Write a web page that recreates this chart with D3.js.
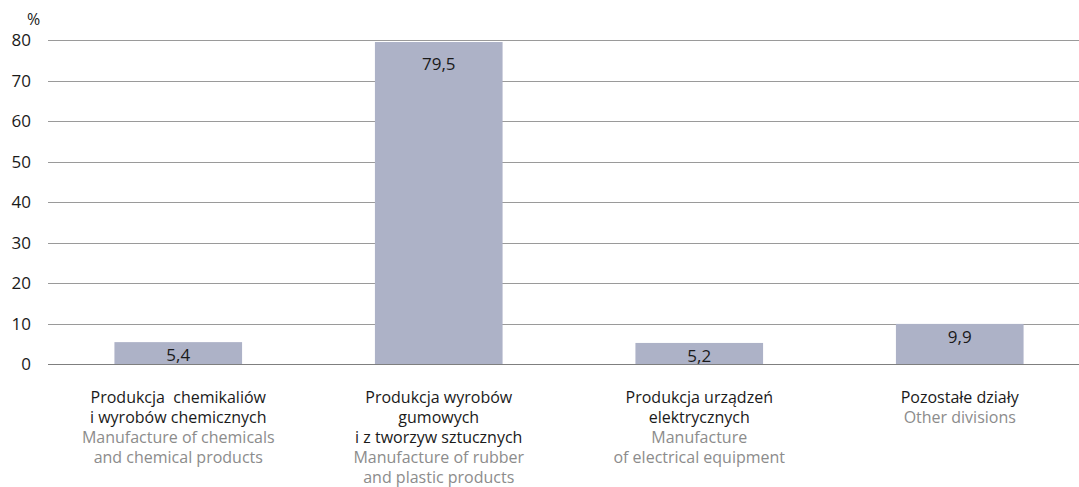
<!DOCTYPE html>
<html>
<head>
<meta charset="utf-8">
<script src="https://cdn.jsdelivr.net/npm/d3@7"></script>
<style>
	body { margin: 0; background: #fff; }
	svg { display: block; font-family: "Open Sans", sans-serif; }
</style>
</head>
<body>
<svg width="1079" height="487"></svg>
<script>
// @ Data
const categoriesPl = [
	["Produkcja  chemikaliów", "i wyrobów chemicznych"],
	["Produkcja wyrobów", "gumowych", "i z tworzyw sztucznych"],
	["Produkcja urządzeń", "elektrycznych"],
	["Pozostałe działy"],
];
const categoriesEn = [
	["Manufacture of chemicals", "and chemical products"],
	["Manufacture of rubber", "and plastic products"],
	["Manufacture", "of electrical equipment"],
	["Other divisions"],
];
const values = [5.4, 79.5, 5.2, 9.9];
const yTicks = [0, 10, 20, 30, 40, 50, 60, 70, 80];

const svg = d3.select("svg");
const margin = { left: 48, top: 40, bottom: 364 };

const x = d3
	.scaleBand()
	.domain(d3.range(values.length))
	.range([margin.left, 1090])
	.paddingInner(0.51)
	.paddingOuter(0.255);

const y = d3.scaleLinear().domain([0, 80]).range([margin.bottom, margin.top]);

// @ grid
svg
	.append("g")
	.selectAll("line")
	.data(yTicks)
	.enter()
	.append("line")
	.attr("x1", margin.left)
	.attr("x2", 1079)
	.attr("y1", (d) => Math.round(y(d)) + 0.5)
	.attr("y2", (d) => Math.round(y(d)) + 0.5)
	.attr("stroke", (d) => (d === 0 ? "#7f7f7f" : "#9a9a9a"))
	.attr("stroke-width", 1);

// @ y axis labels
svg
	.append("g")
	.selectAll("text")
	.data(yTicks)
	.enter()
	.append("text")
	.text((d) => d)
	.attr("x", 31)
	.attr("y", (d) => y(d) + 6)
	.attr("text-anchor", "end")
	.style("font-size", "17px")
	.attr("fill", "#1a1a1a");

svg
	.append("text")
	.text("%")
	.attr("x", 27)
	.attr("y", 25)
	.style("font-size", "16px")
	.attr("fill", "#1a1a1a");

// @ bars
const bars = svg
	.append("g")
	.selectAll("g")
	.data(values)
	.enter()
	.append("g");

bars
	.append("rect")
	.attr("x", (d, i) => x(i))
	.attr("width", x.bandwidth())
	.attr("y", (d) => y(d))
	.attr("height", (d) => y(0) - y(d))
	.attr("fill", "#adb2c7");

bars
	.append("text")
	.text((d) => String(d).replace(".", ","))
	.attr("x", (d, i) => x(i) + x.bandwidth() / 2)
	.attr("y", (d) => y(d) + (d > 50 ? 28 : 19))
	.attr("text-anchor", "middle")
	.style("font-size", "17px")
	.attr("fill", "#1a1a1a");

// @ category labels
const labels = svg
	.append("g")
	.selectAll("text")
	.data(values.map((d, i) => ({ pl: categoriesPl[i], en: categoriesEn[i], i })))
	.enter()
	.append("text")
	.attr("text-anchor", "middle")
	.style("font-size", "16px")
	.attr("transform", (d) => `translate(${x(d.i) + x.bandwidth() / 2}, 403)`);

labels
	.selectAll("tspan")
	.data((d) =>
		d.pl
			.map((t) => ({ t, c: "#1a1a1a" }))
			.concat(d.en.map((t) => ({ t, c: "#8c8c8c" })))
	)
	.enter()
	.append("tspan")
	.attr("x", 0)
	.attr("y", (d, i) => i * 20)
	.attr("fill", (d) => d.c)
	.attr("xml:space", "preserve")
	.style("white-space", "pre")
	.text((d) => d.t);
</script>
</body>
</html>
